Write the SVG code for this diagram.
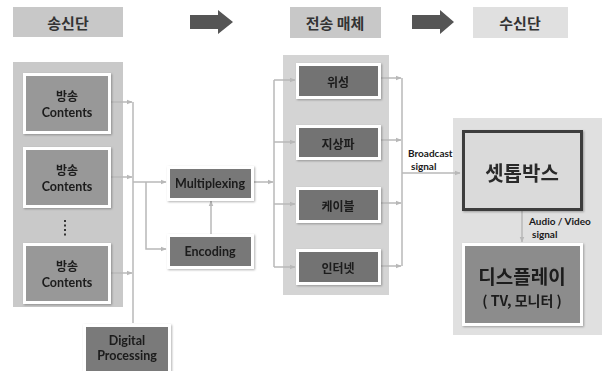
<svg xmlns="http://www.w3.org/2000/svg" width="606" height="371" viewBox="0 0 606 371">
<style>
text{font-family:"Noto Sans CJK KR","Noto Sans",sans-serif;font-weight:bold;text-anchor:middle;dominant-baseline:central;fill:#1a1a1a}
.hdr{font-size:15px;fill:#333}
.c{font-size:12px}
.l{font-family:Lato,"Noto Sans",sans-serif;font-size:12.5px}
.lbl{font-family:Lato,"Noto Sans",sans-serif;font-size:10px;text-anchor:start}
.box{stroke:#fff;stroke-width:3}
.ln{fill:none;stroke:#b8b8b8;stroke-width:1.5}
</style>
<defs>
<marker id="ah" viewBox="0 0 10 10" refX="9" refY="5" markerWidth="6" markerHeight="6" orient="auto" markerUnits="userSpaceOnUse">
<path d="M0,1 L10,5 L0,9 z" fill="#b8b8b8"/>
</marker>
<filter id="sh" x="-10%" y="-10%" width="130%" height="130%">
<feDropShadow dx="1" dy="1" stdDeviation="1" flood-color="#000" flood-opacity="0.3"/>
</filter>
</defs>
<rect width="606" height="371" fill="#fff"/>

<!-- headers -->
<g id="hdr-send"><rect x="13" y="7" width="110" height="30" fill="#c8c8c8"/><text class="hdr" x="68" y="22">송신단</text></g>
<g id="hdr-arrow1"><path d="M190,15 H218 V10 L233,22 L218,34 V29 H190 z" fill="#555"/></g>
<g id="hdr-media"><rect x="290" y="7" width="91" height="31" fill="#c8c8c8"/><text class="hdr" x="335" y="22">전송 매체</text></g>
<g id="hdr-arrow2"><path d="M412,15 H440 V10 L454,22 L440,34 V29 H412 z" fill="#555"/></g>
<g id="hdr-recv"><rect x="473" y="7" width="95" height="31" fill="#e0e0e0"/><text class="hdr" x="520" y="22">수신단</text></g>

<!-- panels -->
<rect x="13" y="62" width="110" height="245" fill="#c9c9c9"/>
<rect x="283" y="55" width="106" height="240" fill="#d4d4d4"/>
<rect x="453" y="118" width="149" height="217" fill="#e0e0e0"/>

<!-- connectors -->
<g id="connectors">
<path class="ln" d="M110,102 H132" marker-end="url(#ah)"/>
<path class="ln" d="M110,177 H132" marker-end="url(#ah)"/>
<path class="ln" d="M110,273 H132" marker-end="url(#ah)"/>
<path class="ln" d="M133,102 V323"/>
<path class="ln" d="M133,182 H166" marker-end="url(#ah)"/>
<path class="ln" d="M146,182 V249 H166" marker-end="url(#ah)"/>
<path class="ln" d="M211,234 V201" marker-end="url(#ah)"/>
<path class="ln" d="M253,182 H273" marker-end="url(#ah)"/>
<path class="ln" d="M274,80 V267"/>
<path class="ln" d="M274,80 H295" marker-end="url(#ah)"/>
<path class="ln" d="M274,142 H295" marker-end="url(#ah)"/>
<path class="ln" d="M274,204 H295" marker-end="url(#ah)"/>
<path class="ln" d="M274,267 H295" marker-end="url(#ah)"/>
<path class="ln" d="M380,78 H401" marker-end="url(#ah)"/>
<path class="ln" d="M380,140 H401" marker-end="url(#ah)"/>
<path class="ln" d="M380,203 H401" marker-end="url(#ah)"/>
<path class="ln" d="M380,266 H401" marker-end="url(#ah)"/>
<path class="ln" d="M402,78 V266"/>
<path class="ln" d="M402,173 H460" marker-end="url(#ah)"/>
<path class="ln" d="M522,211 V242" marker-end="url(#ah)"/>
<text class="lbl" x="408" y="152.5">Broadcast</text>
<text class="lbl" x="411" y="165.5">signal</text>
<text class="lbl" x="529" y="220.5">Audio / Video</text>
<text class="lbl" x="532" y="233.5">signal</text>
</g>

<!-- source nodes -->
<g id="content1" filter="url(#sh)"><rect class="box" x="24.5" y="74.5" width="85" height="58" fill="#989898"/><text class="c" x="67" y="95">방송</text><text class="l" x="67" y="112">Contents</text></g>
<g id="content2" filter="url(#sh)"><rect class="box" x="24.5" y="148.5" width="85" height="58" fill="#989898"/><text class="c" x="67" y="169">방송</text><text class="l" x="67" y="186">Contents</text></g>
<g id="dots"><path d="M65,220 V236" stroke="#333" stroke-width="2" stroke-dasharray="2,2.5"/></g>
<g id="content3" filter="url(#sh)"><rect class="box" x="24.5" y="244.5" width="85" height="58" fill="#989898"/><text class="c" x="67" y="265">방송</text><text class="l" x="67" y="282">Contents</text></g>
<g id="digital" filter="url(#sh)"><rect class="box" x="84.5" y="325.5" width="85" height="48" fill="#7a7a7a"/><text class="l" x="127" y="340">Digital</text><text class="l" x="127" y="355">Processing</text></g>

<g id="multiplexing" filter="url(#sh)"><rect class="box" x="168.5" y="167.5" width="84" height="32" fill="#787878"/><text class="l" x="210" y="183">Multiplexing</text></g>
<g id="encoding" filter="url(#sh)"><rect class="box" x="168.5" y="235.5" width="84" height="32" fill="#787878"/><text class="l" x="210" y="251">Encoding</text></g>

<!-- media -->
<g id="satellite" filter="url(#sh)"><rect class="box" x="297.5" y="64.5" width="82" height="33" fill="#737373"/><text class="c" x="338" y="81">위성</text></g>
<g id="terrestrial" filter="url(#sh)"><rect class="box" x="297.5" y="126.5" width="82" height="32" fill="#737373"/><text class="c" x="338" y="143">지상파</text></g>
<g id="cable" filter="url(#sh)"><rect class="box" x="297.5" y="188.5" width="82" height="33" fill="#737373"/><text class="c" x="338" y="205">케이블</text></g>
<g id="internet" filter="url(#sh)"><rect class="box" x="297.5" y="250.5" width="82" height="33" fill="#737373"/><text class="c" x="338" y="267">인터넷</text></g>

<!-- receiver -->
<g id="settop" filter="url(#sh)"><rect x="463.5" y="131.5" width="118" height="78" fill="#dadada" stroke="#3c3c3c" stroke-width="3"/><text x="522" y="172" style="font-size:20px;fill:#2a2a2a">셋톱박스</text></g>
<g id="display" filter="url(#sh)"><rect class="box" x="463.5" y="244.5" width="118" height="80" fill="#8c8c8c"/><text x="522" y="275" style="font-size:19px">디스플레이</text><text x="522" y="300" style="font-size:14px">( TV, 모니터 )</text></g>
</svg>
